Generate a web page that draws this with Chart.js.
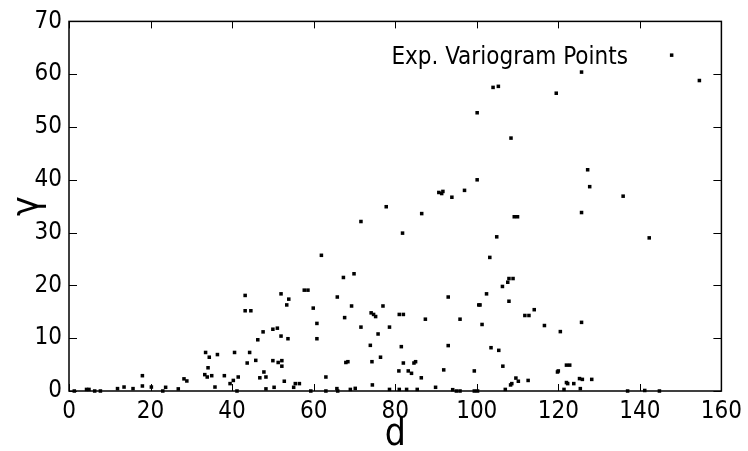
<!DOCTYPE html>
<html>
<head>
<meta charset="utf-8">
<script src="https://cdn.jsdelivr.net/npm/chart.js@4.4.0/dist/chart.umd.min.js"></script>
<style>
  html, body { margin: 0; padding: 0; background: #fff; }
  #wrap { width: 748px; height: 451px; }
</style>
</head>
<body>
<div id="wrap"><canvas id="chart" width="748" height="451"></canvas></div>
<script>
const FONT = "'DejaVu Sans Condensed', 'DejaVu Sans', sans-serif";

// ===== DATA =====
// lag distance d
const lagD = [
  1.3, 4.3, 4.9, 6.3, 7.7, 11.9, 13.5, 15.7, 18.0, 18.0, 20.2, 23.0, 23.7, 26.8, 28.2, 28.9,
  33.5, 34.4, 33.3, 33.9, 34.1, 35.0, 35.8, 36.4, 38.1, 39.5, 40.3, 40.6, 41.2, 41.5,
  43.2, 43.2, 44.6, 43.7, 44.3, 45.8, 46.3, 46.8, 47.6, 47.8, 48.3, 48.3,
  50.0, 51.1, 52.0, 53.9, 53.4, 52.0, 53.7, 50.0, 51.3, 52.2, 52.2, 50.3, 52.8, 55.1, 55.5, 56.5,
  57.7, 58.6, 59.3, 61.9, 59.9, 60.8, 60.8, 63.0, 63.0, 65.7, 65.9,
  67.3, 65.8, 69.9, 71.6, 69.3, 67.6, 71.6, 67.9, 68.4, 69.0, 70.2,
  77.8, 81.8, 74.1, 74.7, 75.2, 77.0, 75.8, 78.6, 73.9, 74.3, 76.4, 74.4, 78.6,
  81.0, 82.0, 81.5, 82.0, 80.9, 81.0, 82.8, 83.2, 84.0, 84.6, 85.0, 85.4,
  86.5, 87.4, 93.0, 93.0, 95.9, 100.5, 100.8, 102.4, 101.3, 103.5, 105.4,
  86.4, 89.9, 91.9, 94.1, 95.0, 95.9, 99.4, 99.4, 100.2,
  100.1, 97.0, 90.7, 91.4, 91.7, 93.9, 109.2, 110.0, 104.9, 103.2,
  107.9, 108.9, 107.6, 106.3, 107.9, 111.8, 112.8, 114.1, 116.6, 120.5,
  106.4, 109.6, 110.2, 108.6, 108.3, 112.6, 107.0,
  119.8, 120.0, 122.0, 122.8, 122.0, 122.3, 121.4, 123.8,
  104.0, 105.3, 100.1, 119.5, 108.4, 125.7, 154.6, 127.2, 127.7, 135.9, 125.7, 142.3, 125.7,
  125.2, 125.9, 128.2, 125.4, 137.0, 141.2, 144.8
];
// semivariance gamma
const gammaVals = [
  0, 0.3, 0.3, 0, 0, 0.45, 0.75, 0.45, 2.9, 0.95, 0.75, 0, 0.7, 0.4, 2.3, 1.9,
  7.3, 6.4, 3.1, 2.65, 4.4, 2.9, 0.75, 6.9, 2.9, 1.4, 2.0, 7.3, 0, 2.65,
  18.1, 15.2, 15.2, 5.3, 7.3, 5.8, 9.7, 2.5, 11.2, 3.6, 2.65, 0.4,
  11.7, 11.9, 18.4, 17.4, 16.3, 10.4, 9.9, 5.75, 5.4, 5.75, 4.7, 0.7, 1.85, 0.7, 1.4, 1.4,
  19.1, 19.1, 0, 25.7, 15.7, 12.8, 9.9, 2.65, 0, 0.45, 0,
  21.5, 17.8, 22.2, 32.1, 16.1, 13.9, 12.1, 5.4, 5.55, 0.3, 0.5,
  34.9, 29.9, 14.8, 14.5, 14.1, 16.1, 10.8, 12.1, 8.65, 5.55, 6.4, 1.15, 0.3,
  14.5, 14.5, 8.4, 5.3, 3.8, 0.3, 0.3, 3.8, 3.35, 5.3, 5.55, 0.3,
  33.6, 13.6, 17.8, 8.6, 13.6, 16.3, 16.3, 18.4, 12.6, 8.2, 7.7,
  2.5, 0.7, 4.0, 0.25, 0, 0, 3.8, 0, 0,
  40.0, 38.0, 37.6, 37.4, 37.8, 36.7, 33.0, 33.0, 29.2, 25.3,
  21.3, 21.3, 20.6, 19.8, 17.0, 14.3, 14.3, 15.4, 12.4, 11.25,
  4.7, 2.45, 1.85, 1.4, 1.15, 2.0, 0.3,
  3.6, 3.8, 4.9, 4.9, 1.6, 1.4, 0.3, 1.4,
  57.5, 57.7, 52.7, 56.4, 47.9, 60.4, 58.8, 41.9, 38.7, 36.9, 33.8, 29.0, 13.0,
  2.35, 2.2, 2.2, 0.45, 0, 0.1, 0
];
const xTicks = [0, 20, 40, 60, 80, 100, 120, 140, 160];
const yTicks = [0, 10, 20, 30, 40, 50, 60, 70];
const legendLabel = 'Exp. Variogram Points';

// ===== FRAME, INWARD TICKS, LEGEND =====
const framePlugin = {
  id: 'frame',
  afterDatasetsDraw(chart) {
    const { ctx, chartArea: a, scales: { x, y } } = chart;
    ctx.save();
    ctx.strokeStyle = '#000';
    ctx.lineWidth = 1;
    ctx.beginPath();
    x.ticks.forEach(t => {
      const px = Math.round(x.getPixelForValue(t.value)) + 0.5;
      ctx.moveTo(px, a.bottom); ctx.lineTo(px, a.bottom - 7);
      ctx.moveTo(px, a.top); ctx.lineTo(px, a.top + 7);
    });
    y.ticks.forEach(t => {
      const py = Math.round(y.getPixelForValue(t.value)) + 0.5;
      ctx.moveTo(a.left, py); ctx.lineTo(a.left + 8, py);
      ctx.moveTo(a.right, py); ctx.lineTo(a.right - 8, py);
    });
    ctx.stroke();
    ctx.lineWidth = 1.5;
    ctx.strokeRect(a.left, a.top, a.right - a.left, a.bottom - a.top);

    // legend: label first, marker after
    ctx.font = '24px ' + FONT;
    ctx.fillStyle = '#000';
    ctx.textAlign = 'right';
    ctx.textBaseline = 'alphabetic';
    ctx.fillText(legendLabel, a.right - 93.5, a.top + 42.3);
    ctx.fillRect(a.right - 51.5, a.top + 32, 3.5, 3.5);
    ctx.restore();
  }
};

new Chart(document.getElementById('chart'), {
  type: 'scatter',
  data: {
    datasets: [{
      label: legendLabel,
      data: lagD.map((d, i) => ({ x: d, y: gammaVals[i] })),
      backgroundColor: '#000',
      borderWidth: 0,
      pointStyle: 'rect',
      pointRadius: 2.5,
      pointHoverRadius: 2.5,
      clip: false
    }]
  },
  options: {
    responsive: false,
    animation: false,
    events: [],
    layout: { padding: { top: 21, right: 25, left: 0, bottom: 0 } },
    plugins: { legend: { display: false }, tooltip: { enabled: false } },
    scales: {
      x: {
        type: 'linear', min: 0, max: 160,
        afterBuildTicks: s => { s.ticks = xTicks.map(v => ({ value: v })); },
        afterFit: s => { s.height = 60; },
        grid: { display: false, drawTicks: false },
        border: { display: false },
        ticks: { color: '#000', padding: 6, maxRotation: 0, font: { family: FONT, size: 24 } },
        title: { display: true, text: 'd', color: '#000', padding: { top: 0, bottom: -3 }, font: { family: FONT, size: 37, lineHeight: 1 } }
      },
      y: {
        type: 'linear', min: 0, max: 70,
        afterBuildTicks: s => { s.ticks = yTicks.map(v => ({ value: v })); },
        afterFit: s => { s.width = 69; },
        grid: { display: false, drawTicks: false },
        border: { display: false },
        ticks: { color: '#000', padding: 7, font: { family: FONT, size: 24 } },
        title: { display: true, text: 'γ', color: '#000', padding: { top: 10 }, font: { family: FONT, size: 37, lineHeight: 1 } }
      }
    }
  },
  plugins: [framePlugin]
});
</script>
</body>
</html>
